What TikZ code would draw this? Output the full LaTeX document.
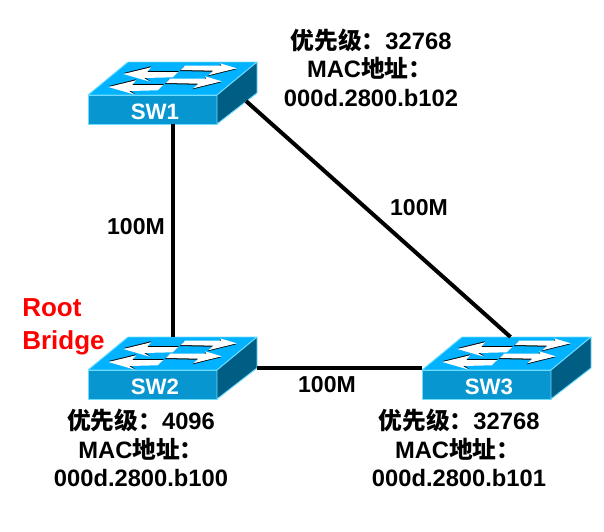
\documentclass[tikz,border=0pt]{standalone}
\usepackage{fontspec}
\setmainfont{Liberation Sans}
\newfontfamily\cjk{Noto Sans CJK SC}
\usetikzlibrary{calc, positioning}
\definecolor{SwitchTop}{RGB}{0, 178, 255}
\definecolor{SwitchFront}{RGB}{8, 150, 208}
\definecolor{SwitchSide}{RGB}{0, 94, 133}
\definecolor{SwitchEdge}{RGB}{110, 220, 255}
\newcommand{\zh}[1]{{\cjk #1}}
\tikzset{
    swbox/.style={minimum width=126.75pt, minimum height=46.5pt, inner sep=0pt, outer sep=0pt},
    swlabel/.style={text=white, font=\fontsize{16.7}{18}\selectfont\bfseries},
    link/.style={line width=3pt, black},
    speed/.style={font=\fontsize{17.3}{20}\selectfont\bfseries},
    info/.style={align=center, inner sep=0pt, font=\fontsize{17.8}{21.4}\selectfont\bfseries},
    face/.style={draw=SwitchEdge, line width=0.7pt, line join=round},
}
\begin{document}
\begin{tikzpicture}[x=0.75pt, y=-0.75pt]
    \useasboundingbox (0,0) rectangle (604,532);

    % Switches
    \foreach \nm/\x/\y/\lab in {sw1/88/62/SW1, sw2/88/337/SW2, sw3/422/337/SW3} {
        \begin{scope}[shift={(\x,\y)}]
            \node[swbox] (\nm) at (84.5,31) {};
            \fill[SwitchTop, face] (0,33) -- (40,0) -- (169,0) -- (129,33) -- cycle;
            \fill[SwitchFront, face] (0,33) rectangle (129,62);
            \fill[SwitchSide, face] (129,33) -- (169,0) -- (169,31) -- (129,62) -- cycle;
            \node[swlabel] (\nm lab) at (67,50) {\lab};
            % Arrows on the top face
            \foreach \dx/\dy in {0/0, -15/13} {
                \begin{scope}[shift={(\dx,\dy)}]
                    \fill[black] (35.8,11) -- (63,4.3) -- (60,9) -- (91,9) -- (85.2,14.3) -- (56.5,15) -- (62,19) -- cycle;
                    \fill[white] (35.3,12) -- (63,5.3) -- (59.3,10) -- (90.3,10) -- (84.7,15.3) -- (56,16) -- (62,19.7) -- cycle;
                    \fill[black] (148,7.3) -- (131.5,2.3) -- (133,4.7) -- (96,4.7) -- (92,9) -- (124.5,9.7) -- (119.5,14.3) -- cycle;
                    \fill[white] (148.7,6.3) -- (132,1.3) -- (133.7,3.7) -- (97,3.7) -- (93,8) -- (125.3,8.7) -- (120.3,13.3) -- cycle;
                \end{scope}
            }
        \end{scope}
    }

    % Links
    \draw[link] (sw1.south) -- (sw2.north);
    \draw[link] ($(sw1.east)+(-11,8)$) -- ($(sw3.north)+(4,0)$);
    \draw[link] (sw2.east) -- (sw3.west);

    % Link speeds
    \node[speed] (s12) at (136,227) {100M};
    \node[speed] (s13) at (419,208) {100M};
    \node[speed] (s23) at (327,385) {100M};

    % Root bridge mark
    \node[text=red, align=left, inner sep=0pt, anchor=west, font=\fontsize{19.5}{24.5}\selectfont\bfseries] (root) at (22,326.5) {Root\\Bridge};

    % Priority and address
    \node[info] (info1) at (371,67.5) {\zh{优先级：}32768\\\hspace*{-2pt}MAC\zh{地址：}\\000d.2800.b102};
    \node[info] (info2) at (141,448) {\zh{优先级：}4096\\MAC\zh{地址：}\\000d.2800.b100};
    \node[info] (info3) at (459,448) {\zh{优先级：}32768\\\hspace*{-2pt}MAC\zh{地址：}\\000d.2800.b101};
\end{tikzpicture}
\end{document}
